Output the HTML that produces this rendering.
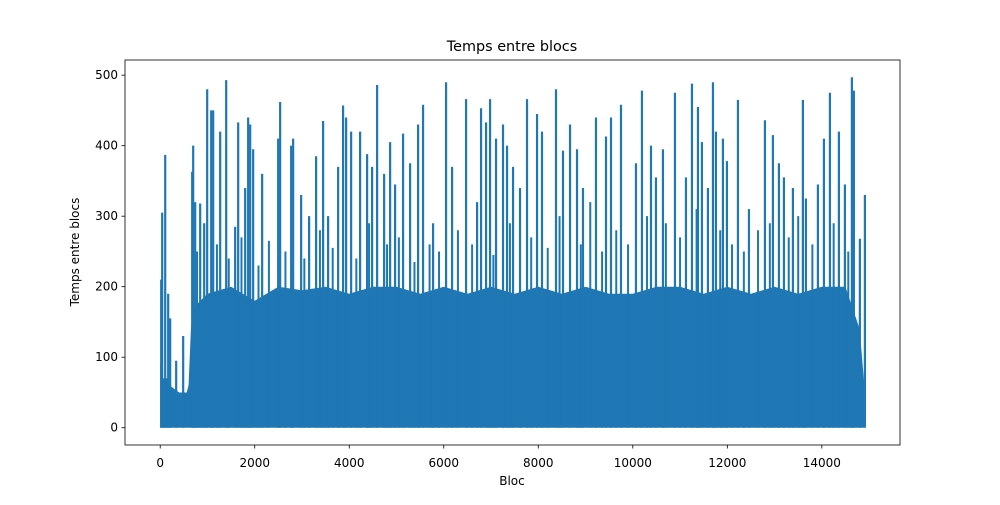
<!DOCTYPE html>
<html><head><meta charset="utf-8"><style>
body{margin:0;background:#fff;font-family:"Liberation Sans",sans-serif}
svg text{font-family:"DejaVu Sans","Liberation Sans",sans-serif;font-size:12px;fill:#000}
</style></head><body>
<svg id="chart" width="1000" height="500">
<rect x="0" y="0" width="1000" height="500" fill="#fff"/>
<g id="plot"></g>
<rect x="125" y="60" width="775" height="385" fill="none" stroke="#000" stroke-width="0.8"/>
<g id="axes"></g>
<text x="512" y="51" text-anchor="middle" style="font-size:14.4px">Temps entre blocs</text>
<text x="512" y="485" text-anchor="middle">Bloc</text>
<text x="79" y="252" text-anchor="middle" transform="rotate(-90 79 252)">Temps entre blocs</text>
</svg>
<script>
const xTicks=[0,2000,4000,6000,8000,10000,12000,14000];
const yTicks=[0,100,200,300,400,500];
const bandX=[0,40,60,150,200,400,560,600,650,700,1000,1500,2000,2500,3000,3500,4000,4500,5000,5500,6000,6500,7000,7500,8000,8500,9000,9500,10000,10500,11000,11500,12000,12500,13000,13500,14000,14500,14800,14900];
const bandY=[90,100,70,70,60,50,50,60,140,170,190,200,180,200,195,200,190,200,200,190,200,190,200,190,200,190,200,190,190,200,200,190,200,190,200,190,200,200,140,60];
const peakX=[21,42,106,169,211,338,486,677,698,740,846,931,994,1079,1121,1269,1396,1586,1650,1798,1861,1904,1967,2157,2496,2538,2771,2813,2982,3151,3299,3447,3553,3765,3870,3934,4040,4230,4378,4484,4590,4738,4865,4970,5139,5288,5457,5562,5774,6049,6176,6472,6705,6789,6895,6980,7106,7254,7339,7466,7614,7762,7974,8079,8375,8523,8672,8820,8946,9221,9433,9539,9750,10067,10194,10385,10490,10638,10892,11125,11252,11379,11463,11590,11696,11759,11907,11992,12225,12458,12796,12965,13092,13198,13388,13599,13663,13917,14044,14171,14361,14488,14636,14678,14805,14911];
const peakY=[210,305,387,190,155,95,130,363,400,320,318,290,480,450,450,420,493,285,433,340,440,430,395,360,410,462,400,410,330,300,385,435,300,370,457,440,420,420,388,370,486,360,405,345,417,375,430,458,290,490,370,466,320,453,433,466,410,430,400,370,340,466,445,420,480,393,430,395,340,440,413,440,458,375,478,400,355,395,475,355,488,455,405,340,490,420,410,378,465,310,436,415,375,355,340,465,325,345,410,475,420,345,497,478,268,330];
const midX=[780,1200,1450,1720,2080,2300,2650,3050,3380,3650,4150,4420,4800,5050,5380,5700,5900,6300,6600,7050,7400,7850,8200,8450,8900,9100,9350,9650,9900,10300,10700,11000,11350,11850,12100,12350,12650,12900,13300,13500,13800,14250,14560];
const midY=[250,260,240,270,230,265,250,240,280,255,240,290,260,270,235,260,250,280,260,245,290,270,255,300,260,320,250,280,260,300,290,270,310,280,260,250,280,290,270,300,260,290,250];
const X0=-745,X1=15654,Y0=-24.5,Y1=521.5;
const sx=v=>125+(v-X0)/(X1-X0)*775;
const sy=v=>445-(v-Y0)/(Y1-Y0)*385;
const NS='http://www.w3.org/2000/svg';
const plot=document.getElementById('plot'),axes=document.getElementById('axes');
function mk(t,a,p){const e=document.createElementNS(NS,t);for(const k in a)e.setAttribute(k,a[k]);p.appendChild(e);return e;}
let d='M'+sx(bandX[0])+','+sy(0);
bandX.forEach((x,i)=>{d+=' L'+sx(x)+','+sy(bandY[i]);});
d+=' L'+sx(bandX[bandX.length-1])+','+sy(0)+' Z';
const band=mk('path',{d:d,fill:'#1f77b4'},plot);


midX.forEach((x,i)=>{
 const l=mk('line',{x1:sx(x),x2:sx(x),y1:sy(0),y2:sy(midY[i]),stroke:'#1f77b4','stroke-width':2},plot);
 
 
});
peakX.forEach((x,i)=>{
 const l=mk('line',{x1:sx(x),x2:sx(x),y1:sy(0),y2:sy(peakY[i]),stroke:'#1f77b4','stroke-width':2.2},plot);
 
 
});
xTicks.forEach(v=>{
 mk('line',{x1:sx(v),x2:sx(v),y1:445,y2:448.5,stroke:'#000','stroke-width':0.8},axes);
 const t=mk('text',{x:sx(v),y:467,'text-anchor':'middle'},axes);t.textContent=v;
 
 
});
yTicks.forEach(v=>{
 mk('line',{x1:121.5,x2:125,y1:sy(v),y2:sy(v),stroke:'#000','stroke-width':0.8},axes);
 const t=mk('text',{x:118,y:sy(v)+4,'text-anchor':'end'},axes);t.textContent=v;
 
 
});
</script>
</body></html>
